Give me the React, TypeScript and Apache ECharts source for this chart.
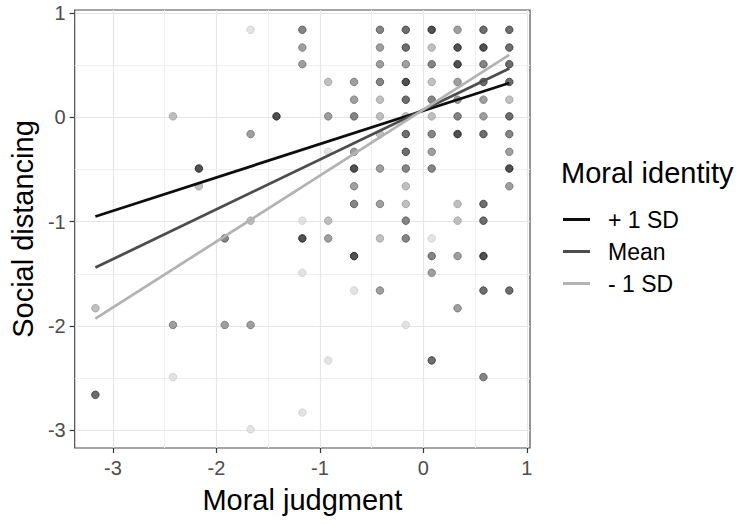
import React, { useEffect, useRef } from 'react';
import * as echarts from 'echarts';

// Axis setup (data units)
const xTicks = [-3, -2, -1, 0, 1];
const yTicks = [-3, -2, -1, 0, 1];
const xRange = [-3.37, 1.03];
const yRange = [-3.17, 1.03];

// Simple-slope lines (Moral identity levels)
const lineNames = ['+ 1 SD', 'Mean', '- 1 SD'];
const lineX = [-3.17, 0.83];
const linePlus = [-0.95, 0.33];
const lineMean = [-1.44, 0.47];
const lineMinus = [-1.93, 0.6];

// Observed points, grouped by their grey shade [moral judgment, social distancing]
const pointsBlack = [
  [-1.42, 0.01], [-2.17, -0.49], [0.08, 0.84], [0.33, 0.67], [0.58, 0.67], [0.33, 0.51],
  [-0.17, 0.34], [0.33, -0.16], [-0.67, -0.49], [0.83, -0.49], [-1.17, -1.16],
  [-0.67, -1.33], [0.58, -1.33],
];
const pointsDark = [
  [0.58, 0.84], [0.83, 0.84], [0.83, 0.67], [-0.17, 0.84], [-0.17, 0.67], [0.83, 0.51],
  [0.58, 0.34], [0.83, 0.34], [-0.17, 0.17], [0.83, 0.01], [-0.17, -0.16], [0.58, -0.16],
  [-0.17, -0.33], [0.58, -0.83], [0.58, -0.99], [-3.17, -2.66], [0.58, -1.66], [0.83, -1.66],
  [0.08, -2.33],
];
const pointsMidDark = [
  [0.08, 0.51], [0.08, 0.17], [0.08, -0.16], [0.08, -0.49], [-0.17, -0.49], [-0.17, -0.99],
  [-1.92, -1.16], [-0.67, -0.83], [-0.67, 0.01], [-0.42, 0.84], [-0.42, 0.34], [-0.17, -1.16],
  [0.08, -1.33], [0.58, -2.49], [-1.17, 0.84], [0.33, 0.01], [0.83, -0.16], [0.58, 0.51],
];
const pointsMid = [
  [0.33, 0.84], [-0.42, 0.67], [-0.42, 0.51], [0.58, 0.17], [0.58, 0.01], [-0.67, 0.34],
  [-0.67, 0.17], [0.33, 0.34], [0.08, -0.33], [0.83, -0.33], [-0.67, -0.33], [0.83, -0.66],
  [-0.67, -0.66], [-0.42, -0.49], [-0.42, -0.83], [-0.92, -1.16], [0.33, -1.33], [0.08, -1.49],
  [-0.42, -1.66], [0.33, -1.83], [-2.42, -1.99], [-1.92, -1.99], [-1.67, -1.99], [-1.67, -0.16],
  [-1.17, 0.67], [-1.17, 0.51], [-0.92, 0.01], [0.33, 0.17], [-0.17, 0.51],
];
const pointsLight = [
  [-0.92, 0.34], [0.08, 0.34], [-0.42, 0.01], [-0.17, 0.01], [-0.17, -0.66], [-0.17, -0.83],
  [0.33, -0.83], [0.33, -0.99], [-0.92, -0.99], [-2.17, -0.66], [-1.67, -0.99], [-3.17, -1.83],
  [-0.42, -1.16], [0.08, 0.67], [-0.42, 0.17], [-0.42, -0.16], [0.83, 0.17], [0.08, 0.01],
  [-2.42, 0.01],
];
const pointsPale = [
  [-1.67, 0.84], [-1.17, -0.99], [-0.92, -0.33], [0.08, -1.16], [-1.17, -1.49], [-0.67, -1.66],
  [-0.17, -1.99], [-0.92, -2.33], [-1.17, -2.83], [-2.42, -2.49], [-1.67, -2.99],
];

const FONT = '"Liberation Sans", Arial, Helvetica, sans-serif';

export default function App() {
  const ref = useRef<HTMLDivElement>(null);

  useEffect(() => {
    if (!ref.current) return;
    const chart = echarts.init(ref.current, undefined, { renderer: 'svg' });

    const shade = (name: string, data: number[][], fill: string, border: string) => ({
      name,
      type: 'scatter',
      data,
      symbol: 'circle',
      symbolSize: 7.5,
      itemStyle: { color: fill, borderColor: border, borderWidth: 1 },
      z: 2,
      silent: true,
    });

    const line = (name: string, ys: number[], color: string) => ({
      name,
      type: 'line',
      data: [[lineX[0], ys[0]], [lineX[1], ys[1]]],
      showSymbol: false,
      symbol: 'none',
      lineStyle: { color, width: 2.8 },
      itemStyle: { color },
      z: 5,
      silent: true,
    });

    chart.setOption({
      animation: false,
      backgroundColor: '#ffffff',
      textStyle: { fontFamily: FONT },
      grid: {
        left: 73, right: 213, top: 10, bottom: 76,
        show: true, borderColor: '#4d4d4d', borderWidth: 1.2, backgroundColor: 'transparent',
      },
      title: {
        text: 'Moral identity',
        left: 561, top: 158, padding: 0,
        textStyle: { fontFamily: FONT, fontSize: 29, fontWeight: 'normal', color: '#000' },
      },
      legend: {
        data: lineNames,
        orient: 'vertical',
        left: 563, top: 208, padding: 0,
        itemWidth: 27, itemHeight: 3, itemGap: 9,
        icon: 'rect',
        selectedMode: false,
        textStyle: { fontFamily: FONT, fontSize: 23, lineHeight: 23, color: '#000', padding: [0, 0, 0, 13] },
      },
      xAxis: {
        type: 'value',
        min: xRange[0], max: xRange[1],
        name: 'Moral judgment',
        nameLocation: 'middle',
        nameGap: 37,
        nameTextStyle: { fontFamily: FONT, fontSize: 29, color: '#000' },
        axisLine: { show: false, onZero: false },
        axisTick: { show: true, length: 5, customValues: xTicks, lineStyle: { color: '#333', width: 1.2 } },
        axisLabel: { customValues: xTicks, margin: 10, fontFamily: FONT, fontSize: 20, color: '#4d4d4d' },
        splitLine: { show: true, lineStyle: { color: '#e6e6e6', width: 1.2 } },
        minorTick: { show: false, splitNumber: 2 },
        minorSplitLine: { show: true, lineStyle: { color: '#efefef', width: 1 } },
      },
      yAxis: {
        type: 'value',
        min: yRange[0], max: yRange[1],
        name: 'Social distancing',
        nameLocation: 'middle',
        nameGap: 28,
        nameTextStyle: { fontFamily: FONT, fontSize: 29, color: '#000' },
        axisLine: { show: false, onZero: false },
        axisTick: { show: true, length: 5, customValues: yTicks, lineStyle: { color: '#333', width: 1.2 } },
        axisLabel: { customValues: yTicks, margin: 9, fontFamily: FONT, fontSize: 20, color: '#4d4d4d' },
        splitLine: { show: true, lineStyle: { color: '#e6e6e6', width: 1.2 } },
        minorTick: { show: false, splitNumber: 2 },
        minorSplitLine: { show: true, lineStyle: { color: '#efefef', width: 1 } },
      },
      series: [
        shade('pale', pointsPale, '#dcdcdc', '#cdcdcd'),
        shade('light', pointsLight, '#b0b0b0', '#9c9c9c'),
        shade('mid', pointsMid, '#878787', '#707070'),
        shade('middark', pointsMidDark, '#676767', '#515151'),
        shade('dark', pointsDark, '#4a4a4a', '#363636'),
        shade('black', pointsBlack, '#262626', '#141414'),
        line(lineNames[0], linePlus, '#0d0d0d'),
        line(lineNames[1], lineMean, '#4d4d4d'),
        line(lineNames[2], lineMinus, '#b3b3b3'),
      ],
    });

    return () => chart.dispose();
  }, []);

  return (
    <div
      ref={ref}
      style={{ position: 'fixed', left: 0, top: 0, width: 743, height: 524, background: '#fff' }}
    />
  );
}
